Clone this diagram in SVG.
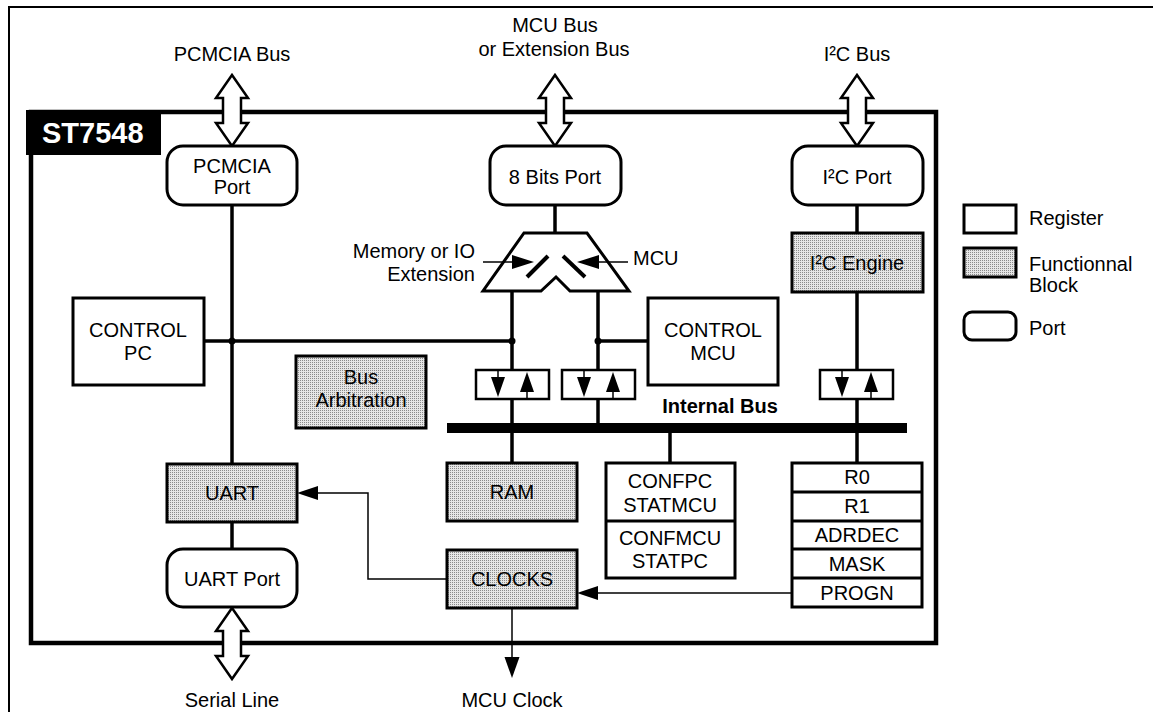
<svg xmlns="http://www.w3.org/2000/svg" width="1153" height="712" viewBox="0 0 1153 712">
<style>
text{font-family:"Liberation Sans",Arial,sans-serif;font-size:20px;fill:#000}
.c{text-anchor:middle}
.b{font-weight:bold}
.box{fill:#fff;stroke:#000;stroke-width:3}
.fb{fill:url(#dots);stroke:#000;stroke-width:3}
.port{fill:#fff;stroke:#000;stroke-width:3}
.w{fill:none;stroke:#000;stroke-width:3.5}
.thin{fill:none;stroke:#000;stroke-width:1.5}
.dbl{fill:#fff;stroke:#000;stroke-width:2.5;stroke-linejoin:miter}
</style>
<defs>
<pattern id="dots" width="2" height="2" patternUnits="userSpaceOnUse">
<rect width="2" height="2" fill="#e6e6e6"/><rect width="1" height="1" fill="#8a8a8a"/>
</pattern>
<path id="darrow" d="M0,0 L16,23 L9,23 L9,48 L16,48 L0,71 L-16,48 L-9,48 L-9,23 L-16,23 Z"/>
<g id="bidir">
<rect x="0" y="0" width="73" height="29" fill="#fff" stroke="#000" stroke-width="2.5"/>
<line x1="22" y1="0" x2="22" y2="8" stroke="#000" stroke-width="1.5"/>
<path d="M15,7 L29,7 L22,27 Z" fill="#000"/>
<line x1="51" y1="22" x2="51" y2="29" stroke="#000" stroke-width="1.5"/>
<path d="M44,22 L58,22 L51,2 Z" fill="#000"/>
</g>
</defs>
<rect width="1153" height="712" fill="#fff"/>
<!-- outer frame -->
<path d="M9,712 L9,7 L1153,7" fill="none" stroke="#000" stroke-width="2"/>
<!-- chip frame -->
<rect id="chip" x="31" y="112" width="905" height="531" fill="none" stroke="#000" stroke-width="4.5"/>
<g id="chip-label">
<rect x="26" y="110" width="135" height="45" fill="#000"/>
<text x="42" y="143" class="b" style="font-size:29px;fill:#fff">ST7548</text>
</g>

<!-- connectors -->
<g id="connectors">
<line class="w" x1="232" y1="205" x2="232" y2="464"/>
<line class="w" x1="204" y1="341" x2="512" y2="341"/>
<line class="w" x1="598" y1="341" x2="648" y2="341"/>
<line class="w" x1="555" y1="205" x2="555" y2="233"/>
<line class="w" x1="512" y1="290" x2="512" y2="463"/>
<line class="w" x1="598" y1="290" x2="598" y2="428"/>
<line class="w" x1="670" y1="428" x2="670" y2="463"/>
<line class="w" x1="857" y1="205" x2="857" y2="233"/>
<line class="w" x1="857" y1="292" x2="857" y2="463"/>
<line class="w" x1="232" y1="522" x2="232" y2="549"/>
<circle cx="232" cy="341" r="3.5"/>
<circle cx="512" cy="341" r="3.5"/>
<circle cx="598" cy="341" r="3.5"/>
<rect id="internal-bus" x="447" y="423" width="460" height="10" fill="#000"/>
<!-- thin clock arrows -->
<polyline class="thin" points="792,593 596,593"/>
<path d="M577,593 L598,586 L598,600 Z"/>
<polyline class="thin" points="447,579 368,579 368,493 316,493"/>
<path d="M297,493 L318,486 L318,500 Z"/>
<line class="thin" x1="512" y1="608" x2="512" y2="660"/>
<path d="M512,678 L504.5,657 L519.5,657 Z"/>
<!-- double arrows -->
<use href="#darrow" class="dbl" x="232" y="75"/>
<use href="#darrow" class="dbl" x="555" y="75"/>
<use href="#darrow" class="dbl" x="857" y="75"/>
<use href="#darrow" class="dbl" x="232" y="608"/>
<!-- bidirectional buffers -->
<use href="#bidir" x="476" y="370"/>
<use href="#bidir" x="562" y="370"/>
<use href="#bidir" x="820" y="370"/>
</g>

<!-- external labels -->
<text class="c" x="232" y="61">PCMCIA Bus</text>
<text class="c" x="555" y="32">MCU Bus</text>
<text class="c" x="554" y="56">or Extension Bus</text>
<text class="c" x="857" y="61">I²C Bus</text>
<text class="c" x="232" y="707">Serial Line</text>
<text class="c" x="512" y="707">MCU Clock</text>
<text class="c b" x="720" y="413">Internal Bus</text>

<g id="pcmcia-port">
<rect class="port" x="167" y="146" width="130" height="59" rx="16"/>
<text class="c" x="232" y="173">PCMCIA</text>
<text class="c" x="232" y="194">Port</text>
</g>
<g id="bits-port">
<rect class="port" x="490" y="146" width="131" height="59" rx="16"/>
<text class="c" x="555" y="184">8 Bits Port</text>
</g>
<g id="i2c-port">
<rect class="port" x="792" y="146" width="131" height="59" rx="16"/>
<text class="c" x="857" y="184">I²C Port</text>
</g>
<g id="mux">
<path d="M524,233 L587,233 L629,291 L570,291 L556,277 L541,291 L483,291 Z" fill="#fff" stroke="#000" stroke-width="3"/>
<line x1="527" y1="277" x2="548" y2="256" stroke="#000" stroke-width="4"/>
<line x1="563" y1="256" x2="585" y2="277" stroke="#000" stroke-width="4"/>
<line x1="483" y1="262" x2="514" y2="262" stroke="#000" stroke-width="1.5"/>
<path d="M534,262 L512,255 L512,269 Z"/>
<line x1="596" y1="262" x2="628" y2="262" stroke="#000" stroke-width="1.5"/>
<path d="M577,262 L599,255 L599,269 Z"/>
<text x="475" y="258" style="text-anchor:end">Memory or IO</text>
<text x="475" y="281" style="text-anchor:end">Extension</text>
<text x="633" y="265">MCU</text>
</g>
<g id="control-pc">
<rect class="box" x="73" y="298" width="131" height="87"/>
<text class="c" x="138" y="337">CONTROL</text>
<text class="c" x="138" y="360">PC</text>
</g>
<g id="control-mcu">
<rect class="box" x="648" y="298" width="130" height="87"/>
<text class="c" x="713" y="337">CONTROL</text>
<text class="c" x="713" y="360">MCU</text>
</g>
<g id="bus-arbitration">
<rect class="fb" x="296" y="356" width="130" height="72"/>
<text class="c" x="361" y="384">Bus</text>
<text class="c" x="361" y="407">Arbitration</text>
</g>
<g id="i2c-engine">
<rect class="fb" x="792" y="233" width="131" height="59"/>
<text class="c" x="857" y="270">I²C Engine</text>
</g>
<g id="ram">
<rect class="fb" x="447" y="463" width="130" height="58"/>
<text class="c" x="512" y="499">RAM</text>
</g>
<g id="conf">
<rect class="box" x="606" y="463" width="129" height="115"/>
<line x1="606" y1="521" x2="735" y2="521" stroke="#000" stroke-width="3"/>
<text class="c" x="670" y="488">CONFPC</text>
<text class="c" x="670" y="512">STATMCU</text>
<text class="c" x="670" y="545">CONFMCU</text>
<text class="c" x="670" y="568">STATPC</text>
</g>
<g id="registers">
<rect class="box" x="792" y="463" width="130" height="144"/>
<g stroke="#000" stroke-width="3">
<line x1="792" y1="492" x2="922" y2="492"/>
<line x1="792" y1="521" x2="922" y2="521"/>
<line x1="792" y1="549" x2="922" y2="549"/>
<line x1="792" y1="578" x2="922" y2="578"/>
</g>
<text class="c" x="857" y="484">R0</text>
<text class="c" x="857" y="513">R1</text>
<text class="c" x="857" y="542">ADRDEC</text>
<text class="c" x="857" y="571">MASK</text>
<text class="c" x="857" y="600">PROGN</text>
</g>
<g id="uart">
<rect class="fb" x="167" y="464" width="130" height="58"/>
<text class="c" x="232" y="500">UART</text>
</g>
<g id="uart-port">
<rect class="port" x="167" y="549" width="130" height="58" rx="16"/>
<text class="c" x="232" y="586">UART Port</text>
</g>
<g id="clocks">
<rect class="fb" x="447" y="550" width="130" height="58"/>
<text class="c" x="512" y="586">CLOCKS</text>
</g>
<g id="legend">
<rect class="box" x="964" y="205" width="52" height="28"/>
<text x="1029" y="225">Register</text>
<rect class="fb" x="964" y="248" width="52" height="29"/>
<text x="1029" y="271">Functionnal</text>
<text x="1029" y="292">Block</text>
<rect class="port" x="964" y="312" width="52" height="28" rx="8"/>
<text x="1029" y="335">Port</text>
</g>
</svg>
